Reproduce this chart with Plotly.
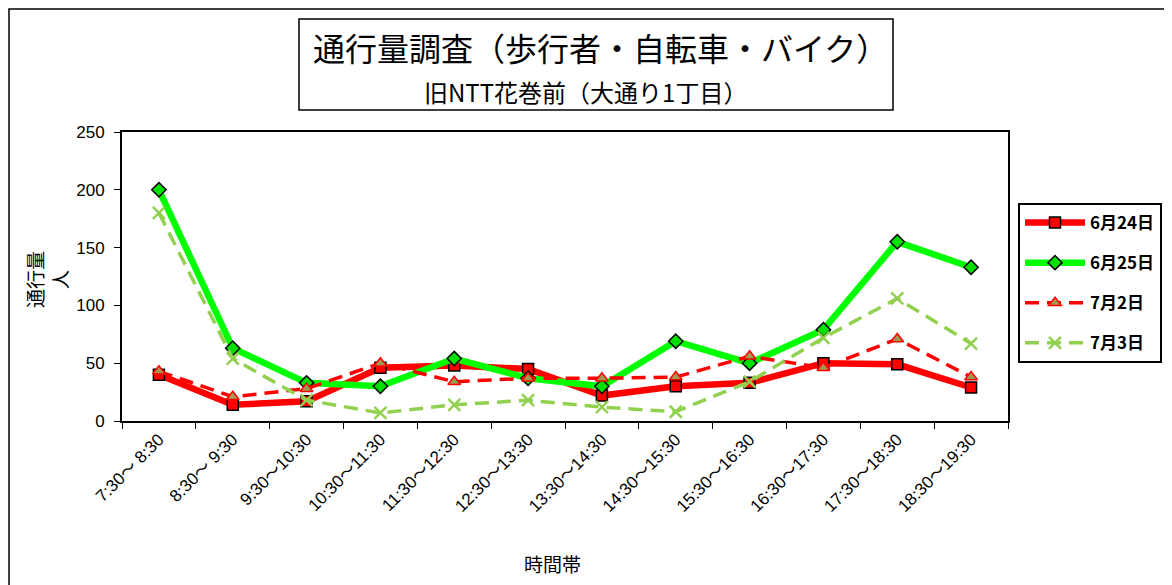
import plotly.graph_objects as go

categories = ["7:30～ 8:30", "8:30～ 9:30", "9:30～10:30", "10:30～11:30", "11:30～12:30",
              "12:30～13:30", "13:30～14:30", "14:30～15:30", "15:30～16:30",
              "16:30～17:30", "17:30～18:30", "18:30～19:30"]
s_0624 = [40, 14, 17, 46, 48, 45, 22, 30, 33, 50, 49, 29]
s_0625 = [200, 63, 33, 30, 54, 37, 30, 69, 50, 79, 155, 133]
s_0702 = [43, 21, 28, 50, 34, 37, 37, 38, 56, 46, 71, 38]
s_0703 = [180, 54, 18, 7, 14, 18, 12, 8, 34, 72, 106, 67]
names = ["6月24日", "6月25日", "7月2日", "7月3日"]
y_ticks = [0, 50, 100, 150, 200, 250]

JP = "Noto Sans CJK JP"
LAT = "Liberation Sans, Arial, Noto Sans CJK JP"

fig = go.Figure()
fig.add_trace(go.Scatter(
    x=categories, y=s_0624, name=names[0], mode="lines+markers", legendgroup="a",
    line=dict(color="#FF0000", width=6.5),
    marker=dict(symbol="square", size=11, color="#FF0000", line=dict(color="black", width=1.5))))
fig.add_trace(go.Scatter(
    x=categories, y=s_0625, name=names[1], mode="lines+markers", legendgroup="b",
    line=dict(color="#00FF00", width=6.5),
    marker=dict(symbol="diamond", size=11, color="#00E000", line=dict(color="black", width=1.5))))
fig.add_trace(go.Scatter(
    x=categories, y=s_0702, name=names[2], mode="lines+markers", legendgroup="c",
    line=dict(color="#FF0000", width=3.5, dash="14px,8px"),
    marker=dict(symbol="triangle-up", size=11, color="#A09A50", line=dict(color="#FF0000", width=1.5))))
fig.add_trace(go.Scatter(
    x=categories, y=s_0703, name=names[3], mode="lines+markers", legendgroup="d",
    line=dict(color="#92D050", width=3.5, dash="14px,8px"),
    marker=dict(symbol="x-thin", size=12, color="#92D050", line=dict(color="#92D050", width=2.5))))

O = 8  # page offset (body margin)
L, R, T, B = 122 - O, 1008 - O, 132 - O, 421 - O
W, H = 1172, 585

def px(x):
    return (x - O - L) / (R - L)

def py(y):
    return (B - (y - O)) / (B - T)

fig.update_layout(
    width=W, height=H,
    margin=dict(l=L, r=W - R, t=T, b=H - B, pad=0),
    plot_bgcolor="white", paper_bgcolor="white",
    showlegend=True,
    legend=dict(x=px(1018), y=py(203), xanchor="left", yanchor="top",
                bordercolor="black", borderwidth=2, bgcolor="white",
                font=dict(family=JP, size=17, color="black", weight="bold"),
                tracegroupgap=15, itemwidth=60),
    xaxis=dict(type="category", range=[-0.5, 11.5], tickson="boundaries",
               ticks="outside", ticklen=6, tickcolor="black", tickwidth=1,
               showline=True, linecolor="black", linewidth=2, mirror=True,
               showgrid=False, tickangle=-45,
               tickfont=dict(family=LAT, size=17, color="black")),
    yaxis=dict(range=[0, 250], tickvals=y_ticks, ticks="outside", ticklen=6,
               tickcolor="black", showline=True, linecolor="black", linewidth=2,
               mirror=True, showgrid=False, zeroline=False, ticklabelstandoff=6,
               tickfont=dict(family=LAT, size=17, color="black")),
    shapes=[
        dict(type="rect", xref="paper", yref="paper", x0=px(9), x1=px(1200),
             y0=py(620), y1=py(9), line=dict(color="black", width=1.5)),
        dict(type="rect", xref="paper", yref="paper", x0=px(299), x1=px(893),
             y0=py(110), y1=py(19), line=dict(color="black", width=1.5),
             fillcolor="white"),
    ],
    annotations=[
        dict(text="通行量調査（歩行者・自転車・バイク）", xref="paper", yref="paper",
             x=px(600), y=py(47), showarrow=False, xanchor="center", yanchor="middle",
             font=dict(family=JP, size=32, color="black")),
        dict(text="旧NTT花巻前（大通り1丁目）", xref="paper", yref="paper",
             x=px(585), y=py(91), showarrow=False, xanchor="center", yanchor="middle",
             font=dict(family=JP, size=24, color="black")),
        dict(text="通行量<br>人", xref="paper", yref="paper", x=px(47), y=py(280),
             showarrow=False, textangle=-90, xanchor="center", yanchor="middle",
             font=dict(family=JP, size=19, color="black")),
        dict(text="時間帯", xref="paper", yref="paper", x=px(552), y=py(563),
             showarrow=False, xanchor="center", yanchor="middle",
             font=dict(family=JP, size=19, color="black")),
    ],
)

fig.write_html("out.html")
